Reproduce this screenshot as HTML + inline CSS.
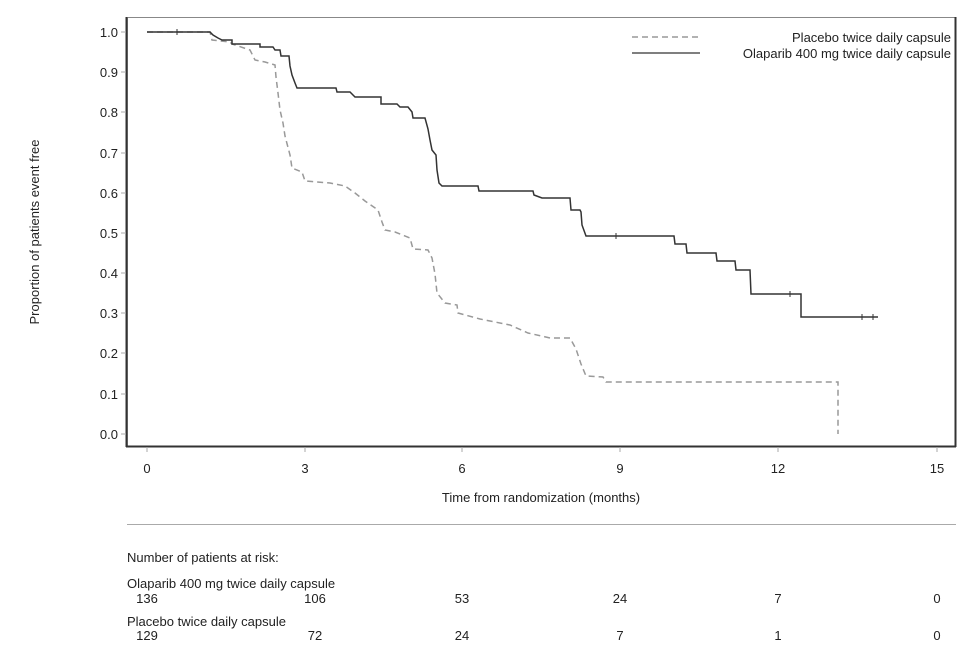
<!DOCTYPE html>
<html><head><meta charset="utf-8"><style>
body{margin:0;background:#fff;}
svg{display:block;font-family:"Liberation Sans",sans-serif;}
</style></head><body>
<svg width="976" height="656" viewBox="0 0 976 656" xmlns="http://www.w3.org/2000/svg">
<rect x="127.5" y="17.5" width="828" height="429" fill="none" stroke="#888" stroke-width="1"/>
<line x1="126" y1="446.5" x2="956" y2="446.5" stroke="#333" stroke-width="2"/>
<line x1="126.5" y1="17" x2="126.5" y2="447" stroke="#333" stroke-width="2"/>
<line x1="955.5" y1="17" x2="955.5" y2="447" stroke="#333" stroke-width="2"/>
<g stroke="#aaa" stroke-width="1">
<line x1="147" y1="447" x2="147" y2="452"/><line x1="305" y1="447" x2="305" y2="452"/><line x1="462" y1="447" x2="462" y2="452"/><line x1="620" y1="447" x2="620" y2="452"/><line x1="778" y1="447" x2="778" y2="452"/><line x1="937" y1="447" x2="937" y2="452"/>
<line x1="121" y1="32" x2="126" y2="32"/><line x1="121" y1="72" x2="126" y2="72"/><line x1="121" y1="112" x2="126" y2="112"/><line x1="121" y1="153" x2="126" y2="153"/><line x1="121" y1="193" x2="126" y2="193"/><line x1="121" y1="233" x2="126" y2="233"/><line x1="121" y1="273" x2="126" y2="273"/><line x1="121" y1="313" x2="126" y2="313"/><line x1="121" y1="353" x2="126" y2="353"/><line x1="121" y1="394" x2="126" y2="394"/><line x1="121" y1="434" x2="126" y2="434"/>
</g>
<g font-size="13" fill="#222" text-anchor="middle">
<text x="147" y="473">0</text><text x="305" y="473">3</text><text x="462" y="473">6</text><text x="620" y="473">9</text><text x="778" y="473">12</text><text x="937" y="473">15</text>
<text x="541" y="502">Time from randomization (months)</text>
</g>
<g font-size="13" fill="#222" text-anchor="end">
<text x="118" y="37">1.0</text><text x="118" y="77">0.9</text><text x="118" y="117">0.8</text><text x="118" y="158">0.7</text><text x="118" y="198">0.6</text><text x="118" y="238">0.5</text><text x="118" y="278">0.4</text><text x="118" y="318">0.3</text><text x="118" y="358">0.2</text><text x="118" y="399">0.1</text><text x="118" y="439">0.0</text>
</g>
<text transform="translate(39,232) rotate(-90)" font-size="13" fill="#222" text-anchor="middle">Proportion of patients event free</text>
<polyline fill="none" stroke="#999" stroke-width="1.5" stroke-dasharray="6,4" points="147,32 210,32 212,40 230,42 232,44 250,50 255,60 265,62 275,65 276,77 278,93 280,110 283,123 285,136 290,155 292,168 302,172 305,181 330,183 345,186 355,193 365,201 378,210 382,222 385,230 395,232 410,238 413,249 428,250 432,258 435,274 437,293 445,303 457,305 458,313 480,319 510,325 528,333 550,338 570,338 576,349 581,364 586,376 603,377 606,382 838,382 838,434"/>
<polyline fill="none" stroke="#333" stroke-width="1.5" points="147,32 210,32 213,35 218,38 222,40 232,40 232,44 260,44 260,47 273,47 275,50 280,50 281,56 289,56 290,66 292,75 295,83 297,88 336,88 337,92 350,92 355,97 381,97 381,104 397,104 400,107 408,107 412,112 413,118 425,118 428,129 430,140 432,150 436,155 437,170 439,183 442,186 478,186 479,191 533,191 534,195 542,198 570,198 571,210 580,210 581,212 582,225 586,236 674,236 675,244 686,244 687,253 716,253 717,261 735,261 736,270 750,270 751,294 801,294 801,317 878,317"/>
<g stroke="#333" stroke-width="1">
<line x1="177" y1="29" x2="177" y2="35"/><line x1="616" y1="233" x2="616" y2="239"/><line x1="790" y1="291" x2="790" y2="297"/><line x1="862" y1="314" x2="862" y2="320"/><line x1="873" y1="314" x2="873" y2="320"/>
</g>
<line x1="632" y1="37" x2="700" y2="37" stroke="#999" stroke-width="1.5" stroke-dasharray="6,4"/>
<line x1="632" y1="53" x2="700" y2="53" stroke="#333" stroke-width="1.2"/>
<g font-size="13" fill="#222" text-anchor="end">
<text x="951" y="42">Placebo twice daily capsule</text>
<text x="951" y="58">Olaparib 400 mg twice daily capsule</text>
</g>
<line x1="127" y1="524.5" x2="956" y2="524.5" stroke="#aaa" stroke-width="1"/>
<g font-size="13" fill="#222">
<text x="127" y="562">Number of patients at risk:</text>
<text x="127" y="588">Olaparib 400 mg twice daily capsule</text>
<text x="127" y="626">Placebo twice daily capsule</text>
</g>
<g font-size="13" fill="#222" text-anchor="middle">
<text x="147" y="603">136</text><text x="315" y="603">106</text><text x="462" y="603">53</text><text x="620" y="603">24</text><text x="778" y="603">7</text><text x="937" y="603">0</text>
<text x="147" y="640">129</text><text x="315" y="640">72</text><text x="462" y="640">24</text><text x="620" y="640">7</text><text x="778" y="640">1</text><text x="937" y="640">0</text>
</g>
</svg>
</body></html>
